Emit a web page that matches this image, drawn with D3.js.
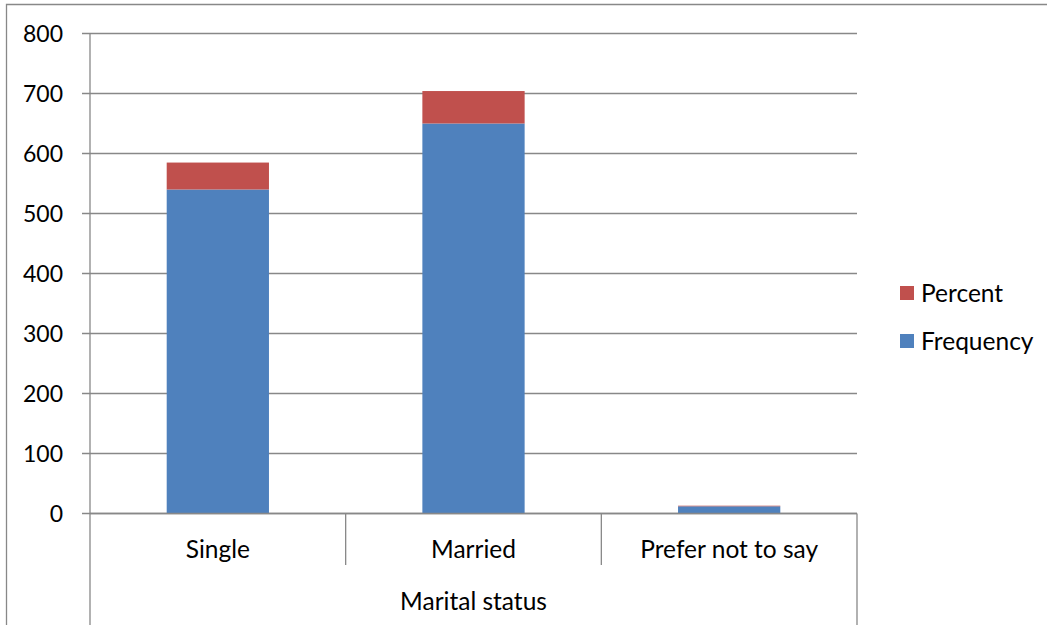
<!DOCTYPE html>
<html>
<head>
<meta charset="utf-8">
<script src="https://cdn.jsdelivr.net/npm/d3@7"></script>
<style>
  html, body { margin: 0; padding: 0; background: #fff; }
  svg { display: block; }
  text { font-family: Lato, "Open Sans", "Liberation Sans", sans-serif; fill: #000; }
</style>
</head>
<body>
<svg id="chart" width="1047" height="625"></svg>
<script>
// Marital status: frequency and percent, stacked
const categories = ["Single", "Married", "Prefer not to say"];
const frequency = [540, 650, 12];
const percent = [44.9, 54.1, 1.0];
const yTicks = [0, 100, 200, 300, 400, 500, 600, 700, 800];
const groupLabel = "Marital status";
const seriesNames = ["Frequency", "Percent"];
const colors = { Frequency: "#4F81BD", Percent: "#C0504D" };

const svg = d3.select("#chart");
const W = 1047, H = 625;
const plot = { left: 90, right: 857, top: 33.5, bottom: 513.5 };
const gridColor = "#888";
const tickFont = 23;
const labelFont = 24.5;

// outer chart frame
svg.append("path")
  .attr("d", `M6.5,${H} V4.5 H${W}`)
  .attr("fill", "none").attr("stroke", gridColor).attr("stroke-width", 1.3);

const x = d3.scaleBand().domain(categories).range([plot.left, plot.right]).paddingInner(0).paddingOuter(0);
const y = d3.scaleLinear().domain([0, 800]).range([plot.bottom, plot.top]);

// horizontal gridlines
svg.append("g").selectAll("line").data(yTicks).join("line")
  .attr("x1", plot.left - 8).attr("x2", plot.right)
  .attr("y1", d => y(d)).attr("y2", d => y(d))
  .attr("stroke", gridColor).attr("stroke-width", 1.3);

// y axis line
svg.append("line")
  .attr("x1", plot.left).attr("x2", plot.left)
  .attr("y1", plot.top).attr("y2", H)
  .attr("stroke", gridColor).attr("stroke-width", 1.3);

// y tick labels
svg.append("g").selectAll("text").data(yTicks).join("text")
  .attr("x", 63).attr("y", d => y(d))
  .attr("dy", "0.35em").attr("text-anchor", "end")
  .attr("font-size", tickFont).text(d => d);

// stacked bars
const rows = categories.map((c, i) => ({ cat: c, Frequency: frequency[i], Percent: percent[i] }));
const stacked = d3.stack().keys(seriesNames)(rows);
const barW = x.bandwidth() * 0.4;
svg.append("g").selectAll("g").data(stacked).join("g")
  .attr("fill", s => colors[s.key])
  .selectAll("rect").data(s => s).join("rect")
  .attr("x", d => x(d.data.cat) + (x.bandwidth() - barW) / 2)
  .attr("width", barW)
  .attr("y", d => y(d[1]))
  .attr("height", d => y(d[0]) - y(d[1]));

// x axis baseline
svg.append("line")
  .attr("x1", plot.left).attr("x2", plot.right)
  .attr("y1", plot.bottom).attr("y2", plot.bottom)
  .attr("stroke", gridColor).attr("stroke-width", 1.3);

// category dividers
const dividers = categories.slice(1).map(c => x(c));
svg.append("g").selectAll("line").data(dividers).join("line")
  .attr("x1", d => d).attr("x2", d => d)
  .attr("y1", plot.bottom).attr("y2", 565)
  .attr("stroke", gridColor).attr("stroke-width", 1.3);
svg.append("line")
  .attr("x1", plot.right).attr("x2", plot.right)
  .attr("y1", plot.bottom).attr("y2", H)
  .attr("stroke", gridColor).attr("stroke-width", 1.3);

// category labels
svg.append("g").selectAll("text").data(categories).join("text")
  .attr("x", d => x(d) + x.bandwidth() / 2).attr("y", 549)
  .attr("dy", "0.35em").attr("text-anchor", "middle")
  .attr("font-size", labelFont).text(d => d);

// group label
svg.append("text")
  .attr("x", (plot.left + plot.right) / 2).attr("y", 601)
  .attr("dy", "0.35em").attr("text-anchor", "middle")
  .attr("font-size", labelFont).text(groupLabel);

// legend
const legendItems = ["Percent", "Frequency"];
const lg = svg.append("g").selectAll("g").data(legendItems).join("g")
  .attr("transform", (d, i) => `translate(900,${293 + i * 48})`);
lg.append("rect").attr("x", 0).attr("y", -7).attr("width", 14).attr("height", 14)
  .attr("fill", d => colors[d]);
lg.append("text").attr("x", 21).attr("y", 0).attr("dy", "0.35em")
  .attr("font-size", labelFont).text(d => d);
</script>
</body>
</html>
